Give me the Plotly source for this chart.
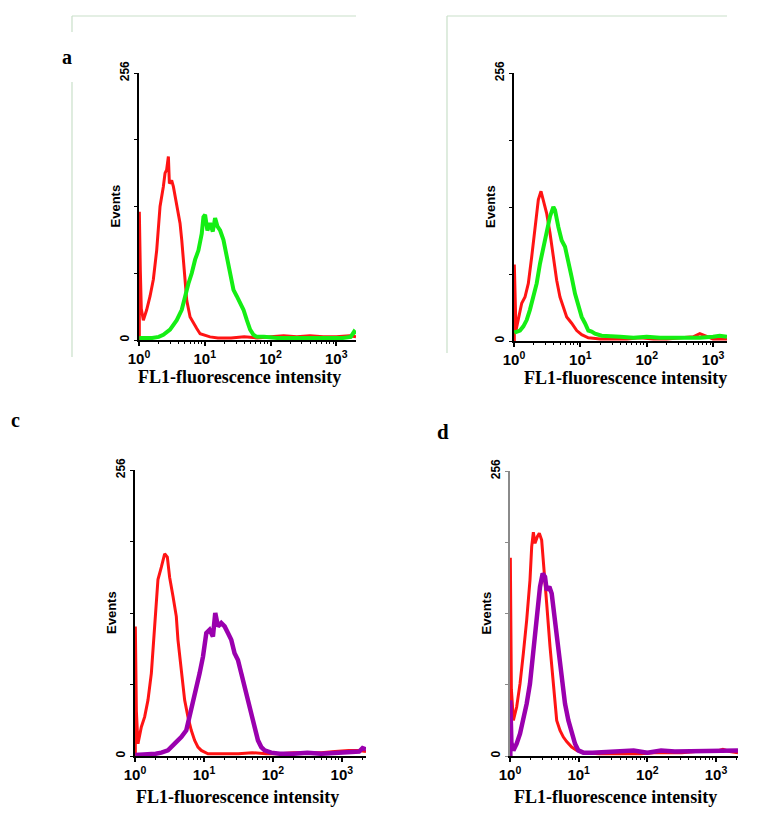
import plotly.graph_objects as go

# ---------------- data (log10 channel position, events) ----------------
# Panel a
a_red_log = [0.005, 0.005, 0.02, 0.035, 0.066, 0.117, 0.168, 0.218, 0.269, 0.32, 0.37, 0.396, 0.42, 0.447,
             0.462, 0.497, 0.523, 0.574, 0.624, 0.65, 0.675, 0.70, 0.726, 0.777, 0.827, 0.878, 0.929, 0.98,
             1.08, 1.2, 1.4, 1.6, 1.8, 2.0, 2.2, 2.4, 2.6, 2.8, 3.0, 3.2, 3.3]
a_red_cnt = [0, 123, 67, 30, 19, 29, 42, 58, 86, 128, 147, 160, 163, 176,
             150, 153, 147, 128, 112, 96, 77, 58, 38, 22, 16, 11, 6, 5,
             3, 2, 2, 3, 2, 3, 4, 3, 4, 3, 3, 4, 3]
a_grn_log = [0.005, 0.1, 0.2, 0.3, 0.37, 0.472, 0.574, 0.65, 0.70, 0.751, 0.802, 0.853, 0.904, 0.954, 0.98,
             1.005, 1.04, 1.081, 1.122, 1.157, 1.193, 1.234, 1.284, 1.335, 1.386, 1.437, 1.487, 1.538,
             1.589, 1.64, 1.69, 1.74, 1.79, 1.9, 2.1, 2.3, 2.5, 2.7, 2.9, 3.1, 3.22, 3.27, 3.3]
a_grn_cnt = [2, 2, 2, 3, 5, 10, 19, 29, 42, 54, 64, 77, 86, 102, 118,
             120, 105, 112, 104, 117, 109, 105, 96, 80, 61, 48, 42, 35,
             29, 19, 10, 5, 3, 3, 2, 2, 2, 2, 2, 2, 3, 8, 6]

# Panel b
b_red_log = [0.005, 0.005, 0.03, 0.065, 0.116, 0.166, 0.216, 0.266, 0.317, 0.367, 0.407, 0.442, 0.492,
             0.543, 0.593, 0.643, 0.693, 0.744, 0.794, 0.869, 0.945, 1.02, 1.12, 1.3, 1.5, 1.7, 1.9,
             2.1, 2.3, 2.5, 2.7, 2.8, 2.88, 3.0, 3.21]
b_red_cnt = [0, 73, 10, 20, 36, 42, 55, 80, 109, 135, 143, 135, 122,
             103, 80, 58, 42, 33, 23, 17, 10, 6, 3, 2, 2, 2, 3,
             2, 2, 3, 4, 7, 5, 2, 2]
b_grn_log = [0.005, 0.04, 0.09, 0.141, 0.191, 0.241, 0.291, 0.342, 0.392, 0.442, 0.492, 0.543, 0.593,
             0.618, 0.668, 0.719, 0.769, 0.819, 0.869, 0.92, 0.97, 1.02, 1.07, 1.12, 1.17, 1.221, 1.32,
             1.472, 1.6, 1.8, 2.0, 2.2, 2.4, 2.6, 2.8, 3.0, 3.1, 3.21]
b_grn_cnt = [8, 9, 10, 14, 20, 30, 42, 55, 74, 90, 106, 119, 128,
             125, 109, 96, 90, 77, 61, 45, 33, 23, 17, 10, 9, 7, 5,
             4, 4, 3, 4, 3, 3, 3, 3, 4, 5, 4]

# Panel c
c_red_log = [0.005, 0.005, 0.02, 0.043, 0.092, 0.14, 0.188, 0.237, 0.285, 0.333, 0.382, 0.43, 0.469,
             0.502, 0.551, 0.599, 0.623, 0.671, 0.72, 0.768, 0.816, 0.865, 0.913, 0.961, 1.058, 1.3,
             1.5, 1.7, 1.9, 2.1, 2.3, 2.5, 2.7, 2.9, 3.1, 3.25, 3.35]
c_red_cnt = [0, 116, 40, 11, 26, 35, 50, 74, 116, 158, 169, 181, 178,
             160, 143, 125, 104, 74, 50, 35, 23, 14, 8, 5, 2, 2,
             2, 3, 2, 2, 3, 3, 3, 4, 5, 5, 4]
c_pur_log = [0.005, 0.2, 0.3, 0.382, 0.478, 0.575, 0.671, 0.744, 0.792, 0.841, 0.889, 0.937, 0.986,
             1.034, 1.082, 1.13, 1.164, 1.203, 1.251, 1.30, 1.348, 1.396, 1.444, 1.493, 1.541, 1.589,
             1.638, 1.686, 1.734, 1.783, 1.831, 1.879, 1.976, 2.1, 2.3, 2.5, 2.7, 2.9, 3.1, 3.25, 3.3, 3.35]
c_pur_cnt = [1, 1, 2, 3, 5, 11, 17, 23, 35, 47, 59, 74, 89,
             110, 113, 107, 128, 116, 119, 116, 110, 104, 92, 86, 74, 62,
             50, 35, 23, 14, 8, 5, 3, 2, 2, 3, 2, 3, 3, 4, 7, 6]

# Panel d
d_red_log = [0.005, 0.005, 0.02, 0.049, 0.097, 0.146, 0.194, 0.243, 0.291, 0.316, 0.34, 0.364, 0.398,
             0.427, 0.461, 0.485, 0.534, 0.583, 0.631, 0.68, 0.728, 0.777, 0.825, 0.898, 0.971, 1.068,
             1.3, 1.5, 1.7, 1.9, 2.1, 2.3, 2.5, 2.7, 2.9, 3.0, 3.1, 3.2, 3.32]
d_red_cnt = [0, 178, 60, 32, 44, 65, 92, 122, 158, 188, 201, 191, 197,
             200, 194, 173, 137, 98, 62, 32, 23, 17, 13, 8, 5, 3,
             2, 2, 2, 2, 3, 3, 3, 4, 5, 4, 6, 4, 3]
d_pur_log = [0.005, 0.005, 0.02, 0.049, 0.097, 0.146, 0.194, 0.243, 0.291, 0.34, 0.388, 0.437, 0.476,
             0.51, 0.534, 0.573, 0.607, 0.655, 0.704, 0.752, 0.801, 0.85, 0.898, 0.947, 0.995, 1.068,
             1.2, 1.4, 1.6, 1.8, 2.0, 2.2, 2.4, 2.6, 2.8, 3.0, 3.2, 3.32]
d_pur_cnt = [0, 50, 12, 5, 11, 20, 32, 47, 65, 92, 122, 152, 164,
             161, 149, 152, 146, 122, 92, 68, 47, 32, 20, 11, 5, 3,
             3, 4, 4, 5, 3, 5, 4, 4, 4, 5, 5, 5]

x_tick_vals = [1, 10, 100, 1000]
x_tick_text = ["10<sup>0</sup>", "10<sup>1</sup>", "10<sup>2</sup>", "10<sup>3</sup>"]
y_tick_vals = [0, 256]
y_tick_text = ["0", "256"]
y_minor_vals = [64, 128, 192]

panels = [
    dict(px=(139, 356), py=(73, 340), xmax=3.30, axcol="black",
         series=[(a_red_log, a_red_cnt, "#FF1414", 3.0), (a_grn_log, a_grn_cnt, "#14EE14", 4.0)]),
    dict(px=(514, 727), py=(73, 341), xmax=3.21, axcol="black",
         series=[(b_red_log, b_red_cnt, "#FF1414", 3.0), (b_grn_log, b_grn_cnt, "#14EE14", 4.0)]),
    dict(px=(135, 366), py=(470, 756), xmax=3.35, axcol="black",
         series=[(c_red_log, c_red_cnt, "#FF1414", 3.0), (c_pur_log, c_pur_cnt, "#9A00AE", 4.5)]),
    dict(px=(510, 738), py=(471, 756), xmax=3.32, axcol="#8a8a8a",
         series=[(d_red_log, d_red_cnt, "#FF1414", 3.0), (d_pur_log, d_pur_cnt, "#9A00AE", 4.5)]),
]

W, H = 757, 816
fig = go.Figure()
minor_vals = [m * 10 ** k for k in range(4) for m in range(2, 10)]

annotations = []
for i, p in enumerate(panels, start=1):
    xa = "x" if i == 1 else f"x{i}"
    ya = "y" if i == 1 else f"y{i}"
    for lg, cnt, col, lw in p["series"]:
        fig.add_trace(go.Scatter(x=[10 ** v for v in lg], y=cnt, mode="lines",
                                 line=dict(color=col, width=lw), xaxis=xa, yaxis=ya,
                                 showlegend=False, hoverinfo="skip"))
    xd = [p["px"][0] / W, p["px"][1] / W]
    yd = [1 - p["py"][1] / H, 1 - p["py"][0] / H]
    xkey = "xaxis" if i == 1 else f"xaxis{i}"
    ykey = "yaxis" if i == 1 else f"yaxis{i}"
    fig.update_layout(**{
        xkey: dict(domain=xd, type="log", range=[0, p["xmax"]], anchor=ya, automargin=False,
                   showline=True, linecolor="black", linewidth=2, showgrid=False, zeroline=False,
                   tickmode="array", tickvals=x_tick_vals, ticktext=x_tick_text,
                   ticks="outside", ticklen=4, tickwidth=1.5, tickcolor="black",
                   tickfont=dict(family="Liberation Sans", size=15, color="black", weight="bold"),
                   minor=dict(tickmode="array", tickvals=minor_vals, ticks="outside",
                              ticklen=2, tickwidth=1, tickcolor="black")),
        ykey: dict(domain=yd, range=[0, 256], anchor=xa, automargin=False,
                   showline=True, linecolor=p["axcol"], linewidth=2, showgrid=False, zeroline=False,
                   tickmode="array", tickvals=y_tick_vals, ticktext=y_tick_text,
                   ticks="outside", ticklen=3, tickwidth=1.2, tickcolor=p["axcol"],
                   tickangle=-90,
                   tickfont=dict(family="Liberation Sans", size=12, color="black", weight="bold"),
                   minor=dict(tickmode="array", tickvals=y_minor_vals, ticks="outside",
                              ticklen=3, tickwidth=1.2, tickcolor=p["axcol"])),
    })
    annotations.append(dict(text="<b>Events</b>", textangle=-90, xref="paper", yref="paper",
                            x=(p["px"][0] - 24) / W, y=1 - (p["py"][0] + p["py"][1]) / 2 / H,
                            showarrow=False, xanchor="center", yanchor="middle",
                            font=dict(family="Liberation Sans", size=13, color="black")))

for cx, cy in [(239, 377), (625, 378), (237, 797), (615, 797)]:
    annotations.append(dict(text="<b>FL1-fluorescence intensity</b>", xref="paper", yref="paper",
                            x=cx / W, y=1 - cy / H, showarrow=False, xanchor="center", yanchor="middle",
                            font=dict(family="Liberation Serif", size=18, color="black")))
for lt, cx, cy, fs in [("a", 67, 57, 20), ("c", 15, 420, 20), ("d", 443, 432, 21)]:
    annotations.append(dict(text=f"<b>{lt}</b>", xref="paper", yref="paper",
                            x=cx / W, y=1 - cy / H, showarrow=False, xanchor="center", yanchor="middle",
                            font=dict(family="Liberation Serif", size=fs, color="black")))

frame_col = "#c9dfc9"
shapes = []
for (x0, y0, x1, y1) in [(72, 16, 356, 16), (72, 16, 72, 32), (72, 82, 72, 357),
                         (447, 16, 727, 16), (447, 16, 447, 353)]:
    shapes.append(dict(type="line", xref="paper", yref="paper",
                       x0=x0 / W, y0=1 - y0 / H, x1=x1 / W, y1=1 - y1 / H,
                       line=dict(color=frame_col, width=1.2)))

fig.update_layout(width=W, height=H, margin=dict(l=0, r=0, t=0, b=0, pad=0, autoexpand=False),
                  paper_bgcolor="white", plot_bgcolor="white",
                  annotations=annotations, shapes=shapes, showlegend=False)

fig.write_html("out.html", config={"displayModeBar": False},
               post_script="document.body.style.margin='0';document.body.style.padding='0';")
